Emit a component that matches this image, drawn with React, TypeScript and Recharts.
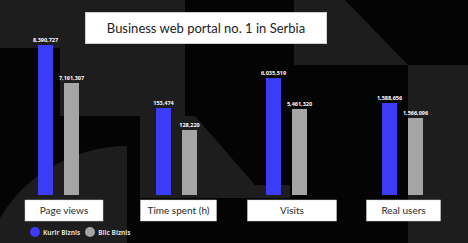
import React from 'react';
import { BarChart, Bar, XAxis, YAxis, LabelList } from 'recharts';

const categories = ['Page views', 'Time spent (h)', 'Visits', 'Real users'];
const kurirValues = [8390727, 153474, 6035519, 1588656];
const blicValues = [7161307, 128220, 5461320, 1566096];

// every metric is drawn on its own value axis
const axisDomains: [number, number][] = [
  [3538000, 8876000],
  [53600, 243000],
  [3868000, 6925000],
  [1450300, 1698400],
];

const SERIES = [
  { key: 'kurir', name: 'Kurir Biznis', color: '#3c3cf6' },
  { key: 'blic', name: 'Blic Biznis', color: '#a5a5a5' },
];

const TITLE = 'Business web portal no. 1 in Serbia';

// panel placement and the white label box under each pair of bars
const PANEL_LEFT = [0, 117.5, 227.5, 343.5];
const LABEL_BOX = [
  { w: 78, dx: 6 },
  { w: 76, dx: 2.5 },
  { w: 89, dx: 6 },
  { w: 74, dx: 1.5 },
];

const BG = '#040404';
const BG_SHAPE = '#1d1d1d';

const fmt = (v: any) => Number(v).toLocaleString('en-US');

const CategoryTick = ({ x, y, payload, box }: any) => (
  <g transform={`translate(${x},${y})`}>
    <rect x={-box.w / 2 + box.dx} y={5} width={box.w} height={21} fill="#ffffff" stroke="#d0d0d0" strokeWidth={0.5} />
    <text x={box.dx} y={19} textAnchor="middle" fontSize={10} fill="#2a2a2a" fontFamily="Lato, 'Open Sans', sans-serif">
      {payload.value}
    </text>
  </g>
);

const Backdrop = () => (
  <svg width={468} height={243} style={{ position: 'absolute', left: 0, top: 0 }}>
    <rect width={468} height={243} fill={BG} />
    <path d="M0 0 H185 V116 H60 V48 H0 Z" fill={BG_SHAPE} />
    <path d="M294 0 H345 L408 65 H294 Z" fill={BG_SHAPE} />
    <rect x={408} y={65} width={60} height={178} fill={BG_SHAPE} />
    <path d="M140 116 H195 L255 185 H290 V198 H140 Z" fill={BG_SHAPE} />
    <path d="M0 243 V218 A148 148 0 0 1 127 146 V243 Z" fill={BG_SHAPE} />
  </svg>
);

const MetricPanel = ({ index }: { index: number }) => {
  const data = [
    { name: categories[index], kurir: kurirValues[index], blic: blicValues[index] },
  ];
  return (
    <div style={{ position: 'absolute', left: PANEL_LEFT[index], top: 0 }}>
      <BarChart
        width={116}
        height={235}
        data={data}
        margin={{ top: 30, right: 0, bottom: 5, left: 0 }}
        barSize={15}
        barGap={11}
      >
        <XAxis
          dataKey="name"
          axisLine={false}
          tickLine={false}
          tickSize={0}
          tickMargin={0}
          height={35}
          interval={0}
          tick={(props: any) => <CategoryTick {...props} box={LABEL_BOX[index]} />}
        />
        <YAxis hide type="number" domain={axisDomains[index]} allowDataOverflow />
        {SERIES.map((s) => (
          <Bar key={s.key} dataKey={s.key} name={s.name} fill={s.color} isAnimationActive={false}>
            <LabelList
              dataKey={s.key}
              position="top"
              offset={3}
              formatter={fmt}
              fill="#ffffff"
              fontSize={5.5}
              fontWeight={700}
              fontFamily="'Open Sans', sans-serif"
            />
          </Bar>
        ))}
      </BarChart>
    </div>
  );
};

export default function App() {
  return (
    <div
      style={{
        position: 'absolute',
        left: 0,
        top: 0,
        width: 468,
        height: 243,
        overflow: 'hidden',
        background: BG,
        fontFamily: "Lato, 'Open Sans', sans-serif",
      }}
    >
      <Backdrop />
      <div
        style={{
          position: 'absolute',
          left: 85,
          top: 12,
          width: 242,
          height: 32,
          background: '#ffffff',
          border: '0.5px solid #cfcfcf',
          boxSizing: 'border-box',
          display: 'flex',
          alignItems: 'center',
          justifyContent: 'center',
          fontSize: 13,
          color: '#222222',
        }}
      >
        {TITLE}
      </div>
      {categories.map((c, i) => (
        <MetricPanel key={c} index={i} />
      ))}
      <div
        style={{
          position: 'absolute',
          left: 30,
          top: 227,
          display: 'flex',
          alignItems: 'center',
          gap: 5,
          fontFamily: "'Open Sans', sans-serif",
          fontSize: 6.5,
          fontWeight: 700,
          color: '#dcdcdc',
        }}
      >
        {SERIES.map((s) => (
          <div key={s.key} style={{ display: 'flex', alignItems: 'center' }}>
            <span
              style={{
                display: 'inline-block',
                width: 10,
                height: 10,
                borderRadius: '50%',
                background: s.color,
                marginRight: 3,
              }}
            />
            <span>{s.name}</span>
          </div>
        ))}
      </div>
    </div>
  );
}
